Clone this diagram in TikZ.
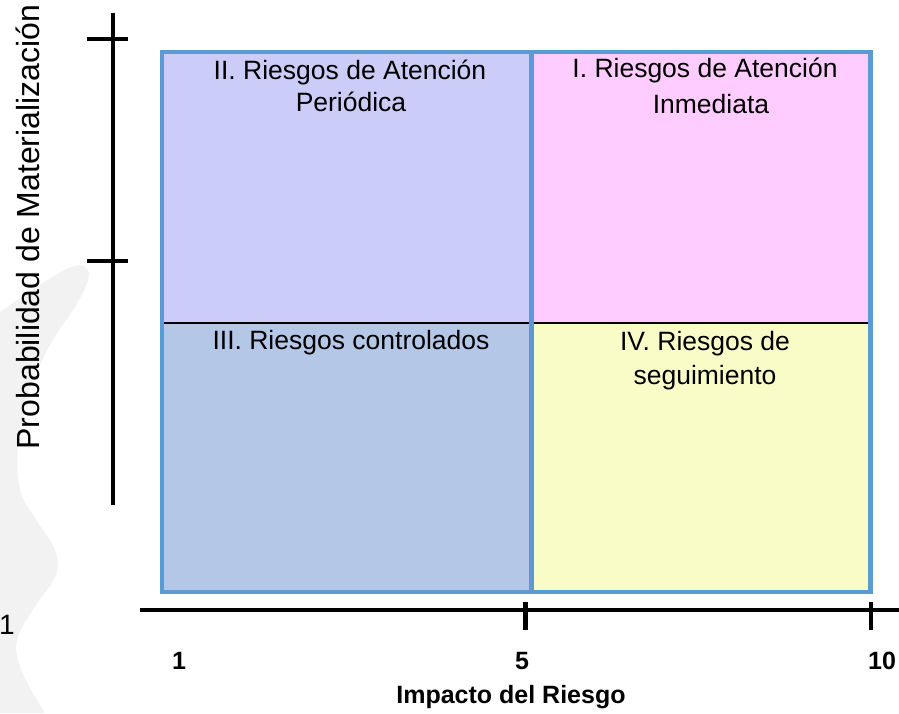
\documentclass[tikz,border=0pt]{standalone}
\usepackage{fontspec}
\setmainfont{Liberation Sans}
\definecolor{qTL}{HTML}{CCCCF9}
\definecolor{qTR}{HTML}{FFCCFF}
\definecolor{qBL}{HTML}{B4C7E7}
\definecolor{qBR}{HTML}{FAFCC8}
\definecolor{qBorder}{HTML}{5B9BD5}
\definecolor{blobGray}{HTML}{F2F2F2}
\begin{document}
\begin{tikzpicture}[x=1pt,y=-1pt,
  qlabel/.style={anchor=base,inner sep=0pt,font=\fontsize{26.5}{32}\selectfont},
  axlabel/.style={anchor=base,inner sep=0pt,font=\fontsize{25}{30}\selectfont\bfseries},
  axisline/.style={line width=4.2pt},
  qborder/.style={draw=qBorder,line width=4.5pt},
]
\useasboundingbox (0,0) rectangle (899,713);
% faint watermark blob
\fill[blobGray] (0,713) -- (0,312) -- plot[smooth,tension=0.6] coordinates {(0,312) (38,286) (74,266) (89,273) (78,302) (50,345) (28,395) (18,445) (20,490) (35,518) (55,550) (56,575) (36,605) (17,640) (22,672) (45,713)} -- cycle;

% quadrant fills
\coordinate (tl) at (162,52);
\coordinate (tm) at (531.5,52);
\coordinate (tr) at (870.5,52);
\coordinate (ml) at (162,323);
\coordinate (mm) at (531.5,323);
\coordinate (mr) at (870.5,323);
\coordinate (bl) at (162,592);
\coordinate (bm) at (531.5,592);
\coordinate (br) at (870.5,592);
\fill[qTL] (tl) rectangle (mm);
\fill[qTR] (tm) rectangle (mr);
\fill[qBL] (ml) rectangle (bm);
\fill[qBR] (mm) rectangle (br);
\draw[line width=1.4pt] (ml) -- (mr);
\draw[qborder] (tm) -- (bm);
\draw[qborder] (tl) rectangle (br);

% quadrant labels
\node[qlabel] (q2a) at (350,79) {II. Riesgos de Atención};
\node[qlabel] (q2b) at (351,111) {Periódica};
\node[qlabel] (q1a) at (705,77) {I. Riesgos de Atención};
\node[qlabel] (q1b) at (711,113) {Inmediata};
\node[qlabel] (q3a) at (351,349) {III. Riesgos controlados};
\node[qlabel] (q4a) at (705,350) {IV. Riesgos de};
\node[qlabel] (q4b) at (705,384) {seguimiento};

% vertical axis
\coordinate (vtop) at (113,13);
\coordinate (vbot) at (113,505);
\draw[axisline] (vtop) -- (vbot);
\coordinate (vt1a) at (87,39);
\coordinate (vt1b) at (128,39);
\coordinate (vt2a) at (87,261);
\coordinate (vt2b) at (128,261);
\draw[axisline] (vt1a) -- (vt1b);
\draw[axisline] (vt2a) -- (vt2b);
\node[inner sep=0pt,rotate=90,font=\fontsize{32}{38}\selectfont] (ylab) at (28,227) {Probabilidad de Materialización};
\node[anchor=base,inner sep=0pt,font=\fontsize{28}{32}\selectfont] (yone) at (7,634) {1};

% horizontal axis
\coordinate (hleft) at (140,610);
\coordinate (hright) at (899,610);
\draw[axisline] (hleft) -- (hright);
\coordinate (ht1a) at (525.5,602);
\coordinate (ht1b) at (525.5,630);
\coordinate (ht2a) at (871,602);
\coordinate (ht2b) at (871,630);
\draw[axisline] (ht1a) -- (ht1b);
\draw[axisline] (ht2a) -- (ht2b);
\node[axlabel] (x1) at (179,669) {1};
\node[axlabel] (x5) at (522,669) {5};
\node[axlabel] (x10) at (882,669) {10};
\node[axlabel] (xlab) at (511,703) {Impacto del Riesgo};
\end{tikzpicture}
\end{document}
